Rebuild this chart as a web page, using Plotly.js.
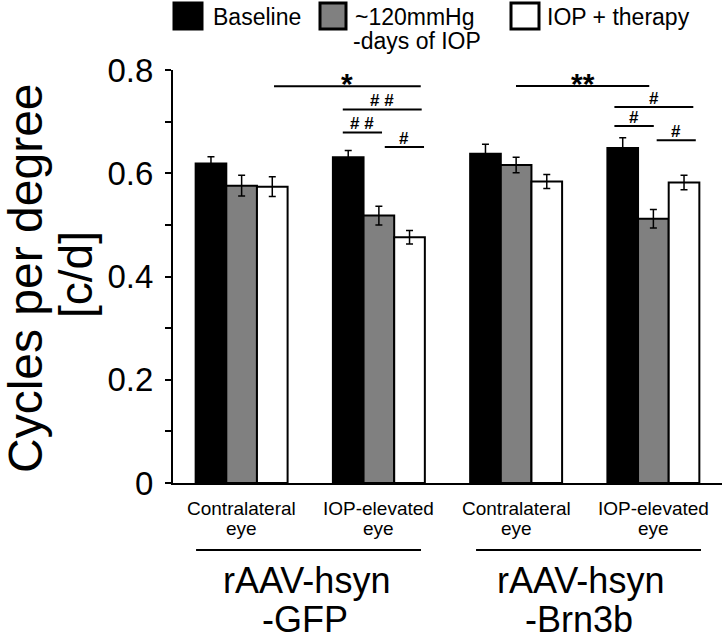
<!DOCTYPE html>
<html>
<head>
<meta charset="utf-8">
<script src="https://cdn.plot.ly/plotly-3.0.1.min.js"></script>
<style>html,body{margin:0;padding:0;background:#fff;}#chart{width:722px;height:640px;}</style>
</head>
<body>
<div id="chart"></div>
<script>
// ---- data ----
const categories = ['GFP contralateral', 'GFP IOP-elevated', 'Brn3b contralateral', 'Brn3b IOP-elevated'];
const eyeLabels = ['Contralateral', 'IOP-elevated', 'Contralateral', 'IOP-elevated'];
const groupLabels = [['rAAV-hsyn', '-GFP'], ['rAAV-hsyn', '-Brn3b']];
const seriesNames = ['Baseline', '~120mmHg', 'IOP + therapy'];
const baseline = [0.619, 0.631, 0.638, 0.649];
const baselineErr = [0.013, 0.013, 0.018, 0.020];
const iop = [0.576, 0.518, 0.616, 0.512];
const iopErr = [0.020, 0.018, 0.015, 0.018];
const therapy = [0.574, 0.476, 0.584, 0.582];
const therapyErr = [0.019, 0.013, 0.0135, 0.014];
const yTickVals = [0, 0.1, 0.2, 0.3, 0.4, 0.5, 0.6, 0.7, 0.8];
const yTickText = ['0', '', '0.2', '', '0.4', '', '0.6', '', '0.8'];
// significance brackets: [x0, x1, y, label]
const brackets = [
  [0.236, 1.305, 0.7685, '*'],
  [0.737, 1.312, 0.7236, '# #'],
  [0.737, 1.023, 0.679, '# #'],
  [1.043, 1.329, 0.651, '#'],
  [1.999, 2.970, 0.769, '**'],
  [2.716, 3.291, 0.7284, '#'],
  [2.716, 3.003, 0.6916, '#'],
  [3.024, 3.309, 0.664, '#']
];

const FONT = 'Liberation Sans, Arial, Helvetica, sans-serif';
const fills = ['#000000', '#808080', '#ffffff'];
const vals = [baseline, iop, therapy];
const errs = [baselineErr, iopErr, therapyErr];

const traces = vals.map((v, i) => ({
  type: 'bar',
  name: seriesNames[i],
  x: categories,
  y: v,
  marker: {color: fills[i], line: {color: '#000', width: 2}},
  error_y: {type: 'data', array: errs[i], visible: true, color: '#000', thickness: 1.5, width: 3.5},
  showlegend: false,
  hoverinfo: 'none'
}));

// pixel helpers (plot area: x 173..722, y 70..483)
const L = 173, R = 722, T = 70, B = 483;
const px = p => (p - L) / (R - L);
const py = p => (B - p) / (B - T);

const shapes = [];
const annotations = [];

// brackets
brackets.forEach(b => {
  shapes.push({type: 'line', xref: 'x', yref: 'y', x0: b[0], x1: b[1], y0: b[2], y1: b[2], line: {color: '#000', width: 2}});
  const isStar = b[3].indexOf('*') >= 0;
  annotations.push({xref: 'x', yref: 'y', x: (b[0] + b[1]) / 2, y: b[2], text: b[3], showarrow: false,
    xanchor: 'center', yanchor: 'bottom', yshift: isStar ? -16 : -3,
    font: {family: FONT, size: isStar ? 30 : 17, color: '#000', weight: 'bold'}});
});

// eye labels
eyeLabels.forEach((t, i) => {
  annotations.push({xref: 'x', yref: 'paper', x: i, y: py(508), text: t, showarrow: false, xanchor: 'center', yanchor: 'middle', font: {family: FONT, size: 19, color: '#000'}});
  annotations.push({xref: 'x', yref: 'paper', x: i, y: py(528), text: 'eye', showarrow: false, xanchor: 'center', yanchor: 'middle', font: {family: FONT, size: 19, color: '#000'}});
});
// group underlines
[[-0.332, 1.307], [1.708, 3.347]].forEach(s => {
  shapes.push({type: 'line', xref: 'x', yref: 'paper', x0: s[0], x1: s[1], y0: py(550), y1: py(550), line: {color: '#000', width: 2}});
});
// group labels
groupLabels.forEach((g, i) => {
  const cx = (2 * i + 2 * i + 1) / 2;
  annotations.push({xref: 'x', yref: 'paper', x: cx - 0.03, y: py(580), text: g[0], showarrow: false, xanchor: 'center', yanchor: 'middle', font: {family: FONT, size: 36, color: '#000'}});
  annotations.push({xref: 'x', yref: 'paper', x: cx - 0.04, y: py(619), text: g[1], showarrow: false, xanchor: 'center', yanchor: 'middle', font: {family: FONT, size: 36, color: '#000'}});
});

// y title
annotations.push({xref: 'paper', yref: 'paper', x: px(25), y: py(278), text: 'Cycles per degree', textangle: -90, showarrow: false, xanchor: 'center', yanchor: 'middle', font: {family: FONT, size: 48, color: '#000'}});
annotations.push({xref: 'paper', yref: 'paper', x: px(76), y: py(275), text: '[c/d]', textangle: -90, showarrow: false, xanchor: 'center', yanchor: 'middle', font: {family: FONT, size: 46, color: '#000'}});

// legend (custom)
const legendBoxes = [[174, 202, '#000000'], [320, 346, '#808080'], [511, 539, '#ffffff']];
legendBoxes.forEach(b => {
  shapes.push({type: 'rect', xref: 'paper', yref: 'paper', x0: px(b[0]), x1: px(b[1]), y0: py(29), y1: py(3), fillcolor: b[2], line: {color: '#000', width: 3}});
});
annotations.push({xref: 'paper', yref: 'paper', x: px(211), y: py(17), text: seriesNames[0], showarrow: false, xanchor: 'left', yanchor: 'middle', font: {family: FONT, size: 23, color: '#000'}});
annotations.push({xref: 'paper', yref: 'paper', x: px(353), y: py(17), text: seriesNames[1], showarrow: false, xanchor: 'left', yanchor: 'middle', font: {family: FONT, size: 23, color: '#000'}});
annotations.push({xref: 'paper', yref: 'paper', x: px(351), y: py(41), text: '-days of IOP', showarrow: false, xanchor: 'left', yanchor: 'middle', font: {family: FONT, size: 23, color: '#000'}});
annotations.push({xref: 'paper', yref: 'paper', x: px(545), y: py(17), text: seriesNames[2], showarrow: false, xanchor: 'left', yanchor: 'middle', font: {family: FONT, size: 23, color: '#000'}});

const layout = {
  width: 722, height: 640,
  margin: {l: L, r: 722 - R, t: T, b: 640 - B, pad: 0},
  paper_bgcolor: '#fff', plot_bgcolor: '#fff',
  barmode: 'group', bargap: 0.33, bargroupgap: 0,
  showlegend: false,
  xaxis: {type: 'category', range: [-0.5, 3.5], showline: true, linecolor: '#000', linewidth: 2,
          ticks: '', showticklabels: false, showgrid: false, zeroline: false, fixedrange: true},
  yaxis: {range: [0, 0.8], showline: true, linecolor: '#000', linewidth: 2, ticks: 'outside', ticklen: 6, tickwidth: 2, tickcolor: '#000',
          tickvals: yTickVals, ticktext: yTickText, ticklabelstandoff: 5,
          tickfont: {family: FONT, size: 33, color: '#000'}, showgrid: false, zeroline: false, fixedrange: true},
  shapes: shapes,
  annotations: annotations
};

Plotly.newPlot('chart', traces, layout, {displayModeBar: false, staticPlot: true});
</script>
</body>
</html>
